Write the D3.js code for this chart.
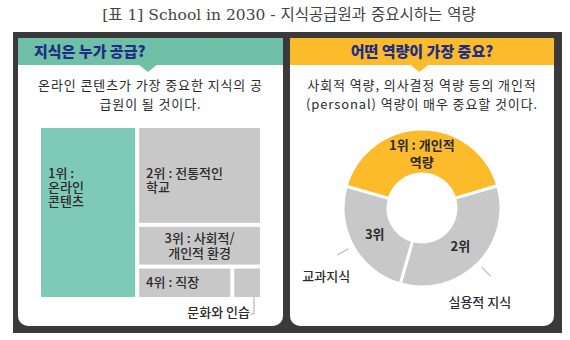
<!DOCTYPE html>
<html>
<head>
<meta charset="utf-8">
<script src="https://cdn.jsdelivr.net/npm/d3@7"></script>
<style>
  body { margin: 0; background: #fff; }
  text { font-family: "Noto Sans CJK KR", "Noto Sans", sans-serif; }
</style>
</head>
<body>
<svg id="chart" width="570" height="340"></svg>
<script>
// Two-panel infographic: knowledge sources (treemap) + key competencies (donut).

const titleText = "[표 1] School in 2030 - 지식공급원과 중요시하는 역량";

const panelTitles = ["지식은 누가 공급?", "어떤 역량이 가장 중요?"];
const panelNotes = [
  ["온라인 콘텐츠가 가장 중요한 지식의 공", "급원이 될 것이다."],
  ["사회적 역량, 의사결정 역량 등의 개인적", "(personal) 역량이 매우 중요할 것이다."]
];

// knowledge sources (%)
const sourceNames = ["온라인 콘텐츠", "전통적인 학교", "사회적/개인적 환경", "직장", "문화와 인습"];
const sourceShares = [44, 32, 13.5, 8, 2.5];
const sourceLabels = [
  ["1위 :", "온라인", "콘텐츠"],
  ["2위 : 전통적인", "학교"],
  ["3위 : 사회적/", "개인적 환경"],
  ["4위 : 직장"],
  []
];

// competencies (%)
const competencyNames = ["개인적 역량", "실용적 지식", "교과지식"];
const competencyShares = [41, 34, 25];
const competencyInner = [["1위 : 개인적", "역량"], ["2위"], ["3위"]];
const competencyOuter = ["", "실용적 지식", "교과지식"];

// multi-line label as one <text> with tspans
function addLines(sel, lines, x, lh) {
  sel.selectAll("tspan")
    .data(lines)
    .join("tspan")
    .attr("x", x)
    .attr("dy", (t, j) => j === 0 ? "0.35em" : lh)
    .text(t => t);
}

function drawInfographic() {
  const svg = d3.select("#chart");

  const teal = "#6fc0a7";
  const tealCell = "#7fcab7";
  const yellow = "#fbbb2b";
  const grey = "#c8c8c8";
  const navy = "#1f2d86";
  const ink = "#2b2b2b";

  svg.append("text")
    .attr("x", 289)
    .attr("y", 20)
    .attr("text-anchor", "middle")
    .attr("fill", "#444")
    .attr("font-size", 15.5)
    .style("font-family", "'DejaVu Serif', 'Noto Sans CJK KR', serif")
    .text(titleText);

  // dark frame
  svg.append("rect")
    .attr("x", 13).attr("y", 32)
    .attr("width", 549).attr("height", 301)
    .attr("fill", "#3a3a3a");

  const panels = [
    { x: 18, w: 265, color: teal },
    { x: 290, w: 264, color: yellow }
  ];

  panels.forEach((p, i) => {
    svg.append("rect")
      .attr("x", p.x).attr("y", 38)
      .attr("width", p.w).attr("height", 288)
      .attr("rx", 10)
      .attr("fill", "#fff");

    svg.append("rect")
      .attr("x", p.x).attr("y", 38)
      .attr("width", p.w).attr("height", 27)
      .attr("fill", p.color);

    const cx = p.x + p.w * 0.49;
    svg.append("path")
      .attr("d", `M${cx - 10},64 L${cx + 10},64 L${cx},72 Z`)
      .attr("fill", p.color);

    svg.append("text")
      .attr("x", i === 0 ? 34 : p.x + p.w / 2)
      .attr("y", 52)
      .attr("dy", "0.35em")
      .attr("text-anchor", i === 0 ? "start" : "middle")
      .attr("fill", navy)
      .attr("font-size", 15)
      .attr("font-weight", 900)
      .text(panelTitles[i]);

    svg.append("text")
      .attr("y", 85)
      .attr("text-anchor", "middle")
      .attr("fill", ink)
      .attr("font-size", 13)
      .attr("letter-spacing", 0.9)
      .call(addLines, panelNotes[i], p.x + p.w / 2, 19);
  });

  // ---- treemap ----
  const tmX = 41, tmY = 128, tmW = 219, tmH = 169;
  const leaves = sourceNames.map((name, i) => ({ name, value: sourceShares[i], i }));
  const tree = {
    children: [
      leaves[0],
      { children: [leaves[1], leaves[2], { children: [leaves[3], leaves[4]] }] }
    ]
  };

  const root = d3.hierarchy(tree).sum(d => d.value || 0);
  d3.treemap()
    .tile(d3.treemapSliceDice)
    .size([tmW, tmH])
    .paddingInner(4)(root);

  const tm = svg.append("g").attr("transform", `translate(${tmX},${tmY})`);

  const cells = tm.selectAll(".cell")
    .data(root.leaves())
    .join("g")
    .attr("class", "cell");

  cells.append("rect")
    .attr("x", d => d.x0)
    .attr("y", d => d.y0)
    .attr("width", d => d.x1 - d.x0)
    .attr("height", d => d.y1 - d.y0)
    .attr("fill", d => d.data.i === 0 ? tealCell : grey);

  cells.each(function(d) {
    const lines = sourceLabels[d.data.i];
    if (!lines.length) return;
    const h = d.y1 - d.y0;
    const centred = d.data.i === 2;
    const lh = d.data.i === 0 ? 14 : 14.5;
    const top = h > 80 ? d.y0 + 45 : (d.y0 + d.y1) / 2 - (lines.length - 1) * lh / 2;
    const x = centred ? (d.x0 + d.x1) / 2 : d.x0 + 7;
    d3.select(this).append("text")
      .attr("y", top)
      .attr("text-anchor", centred ? "middle" : "start")
      .attr("fill", ink)
      .attr("font-size", 13)
      .attr("font-weight", 500)
      .call(addLines, lines, x, lh);
  });

  // small cell callout
  const small = root.leaves().find(d => d.data.i === 4);
  const lx = small.x1 - 6;
  tm.append("path")
    .attr("d", `M${lx},${small.y1} V${small.y1 + 17} H${lx - 4}`)
    .attr("fill", "none")
    .attr("stroke", "#aaa")
    .attr("stroke-width", 1);
  tm.append("text")
    .attr("x", lx - 4)
    .attr("y", small.y1 + 15)
    .attr("dy", "0.35em")
    .attr("text-anchor", "end")
    .attr("fill", ink)
    .attr("font-size", 13)
    .attr("font-weight", 500)
    .text(sourceNames[4]);

  // ---- donut ----
  const cx = 422, cy = 208;
  const outerR = 79, innerR = 34;
  const pie = d3.pie()
    .sort(null)
    .value(d => d)
    .startAngle(-74 * Math.PI / 180)
    .endAngle(286 * Math.PI / 180);
  const arcs = pie(competencyShares);
  const arc = d3.arc().innerRadius(innerR).outerRadius(outerR);
  const labelArc = d3.arc().innerRadius(54).outerRadius(54);

  const dg = svg.append("g").attr("transform", `translate(${cx},${cy})`);

  dg.selectAll(".slice")
    .data(arcs)
    .join("path")
    .attr("class", "slice")
    .attr("d", arc)
    .attr("fill", (d, i) => i === 0 ? yellow : grey)
    .attr("stroke", "#fff")
    .attr("stroke-width", 3);

  dg.selectAll(".inner-label")
    .data(arcs)
    .join("text")
    .attr("class", "inner-label")
    .attr("y", d => labelArc.centroid(d)[1] - (competencyInner[d.index].length - 1) * 8.5)
    .attr("text-anchor", "middle")
    .attr("fill", ink)
    .attr("font-size", 13)
    .attr("font-weight", 700)
    .each(function(d) {
      d3.select(this).call(addLines, competencyInner[d.index], labelArc.centroid(d)[0], 17);
    });

  const outside = arcs.filter((d, i) => competencyOuter[i]);
  const mid = d => (d.startAngle + d.endAngle) / 2;
  const polar = (a, r) => [r * Math.sin(a), -r * Math.cos(a)];

  dg.selectAll(".leader")
    .data(outside)
    .join("line")
    .attr("class", "leader")
    .attr("x1", d => polar(mid(d), 84)[0])
    .attr("y1", d => polar(mid(d), 84)[1])
    .attr("x2", d => polar(mid(d), 97)[0])
    .attr("y2", d => polar(mid(d), 97)[1])
    .attr("stroke", "#bbb")
    .attr("stroke-width", 1.2);

  dg.selectAll(".outer-label")
    .data(outside)
    .join("text")
    .attr("class", "outer-label")
    .attr("x", d => polar(mid(d), 97)[0] - 11)
    .attr("y", d => polar(mid(d), 97)[1] + (Math.sin(mid(d)) > 0 ? 26 : 21))
    .attr("dy", "0.35em")
    .attr("text-anchor", "middle")
    .attr("fill", ink)
    .attr("font-size", 13)
    .attr("font-weight", 500)
    .text(d => competencyOuter[d.index]);
}

drawInfographic();
</script>
</body>
</html>
